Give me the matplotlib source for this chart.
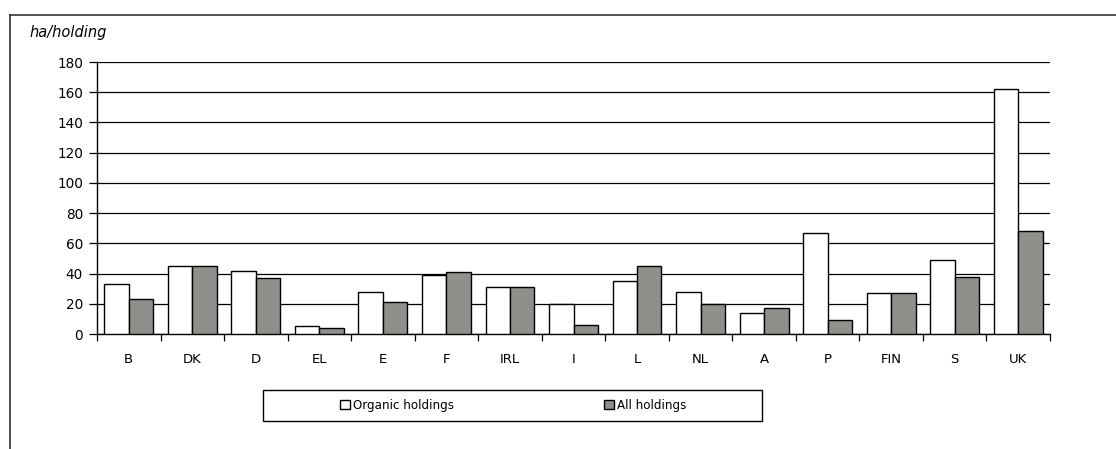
import matplotlib
matplotlib.use("Agg")
import matplotlib.pyplot as plt
from matplotlib.patches import Rectangle
from matplotlib.lines import Line2D
import numpy as np

plt.rcParams['font.family'] = ['DejaVu Sans']

categories = ["B", "DK", "D", "EL", "E", "F", "IRL", "I", "L", "NL", "A", "P", "FIN", "S", "UK"]
organic = [33, 45, 42, 5, 28, 39, 31, 20, 35, 28, 14, 67, 27, 49, 162]
all_holdings = [23, 45, 37, 4, 21, 41, 31, 6, 45, 20, 17, 9, 27, 38, 68]
yticks = [0, 20, 40, 60, 80, 100, 120, 140, 160, 180]

W, H = 1116, 449
fig = plt.figure(figsize=(W / 100, H / 100), dpi=100)
ax = fig.add_axes([97 / W, (H - 334) / H, (1050 - 97) / W, (334 - 62) / H])

x = np.arange(len(categories))
bw = 0.385
ax.bar(x - bw / 2, organic, bw, color="white", edgecolor="black", linewidth=1.0,
       label="Organic holdings", zorder=3)
ax.bar(x + bw / 2, all_holdings, bw, color="#8e908c", edgecolor="black", linewidth=1.0,
       label="All holdings", zorder=3)

ax.set_xlim(-0.5, len(categories) - 0.5)
ax.set_ylim(0, 180)
ax.set_yticks(yticks)
ax.yaxis.grid(True, color="black", linewidth=0.9, zorder=0)
ax.set_axisbelow(True)

ax.set_xticks(x)
ax.set_xticklabels(categories, fontsize=9.5)
ax.set_xticks(np.arange(len(categories) + 1) - 0.5, minor=True)
ax.tick_params(axis="x", which="major", length=0, pad=13.5)
ax.tick_params(axis="x", which="minor", length=5, width=0.9, direction="out")
ax.tick_params(axis="y", length=6, width=0.9, labelsize=9.8, pad=4)

for s in ["top", "right"]:
    ax.spines[s].set_visible(False)
for s in ["left", "bottom"]:
    ax.spines[s].set_linewidth(1.0)
    ax.spines[s].set_color("black")

fig.text(29 / W, 1 - 32 / H, "ha/holding", fontsize=10.5, style="italic", va="center", ha="left")

# legend
handles, labels = ax.get_legend_handles_labels()
leg = fig.legend(handles, labels, loc="center", bbox_to_anchor=(513 / W, 1 - 405.5 / H),
                 ncol=2, frameon=False, fontsize=8.6, handlelength=0.8, handleheight=0.8,
                 handletextpad=0.25, columnspacing=12.6)
fig.patches.append(Rectangle((263 / W, 1 - 421 / H), (762 - 263) / W, 31 / H,
                             transform=fig.transFigure, fill=False, edgecolor="black",
                             linewidth=1.0))

# outer frame
fig.lines.append(Line2D([10 / W, 1.0], [1 - 15 / H, 1 - 15 / H], transform=fig.transFigure,
                        color="#333333", linewidth=1.2))
fig.lines.append(Line2D([10 / W, 10 / W], [1 - 15 / H, 0.0], transform=fig.transFigure,
                        color="#333333", linewidth=1.2))

fig.savefig("out.png", dpi=100)
